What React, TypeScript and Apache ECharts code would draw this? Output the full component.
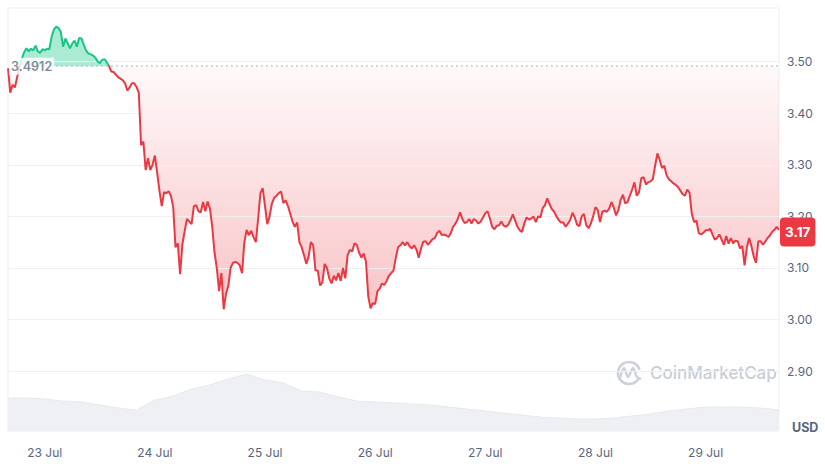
import React, { useEffect, useRef, useState } from "react";
import * as echarts from "echarts";

// Reference (open) price shown as the dotted baseline
const BASELINE = 3.4912;

// Price every 30 minutes, from 22 Jul 16:00 to 29 Jul 16:00
const prices: number[] = [
  3.487, 3.44, 3.455, 3.45, 3.47, 3.49, 3.505, 3.518, 3.526, 3.52,
  3.525, 3.522, 3.531, 3.52, 3.517, 3.524, 3.522, 3.525, 3.524, 3.548,
  3.562, 3.568, 3.565, 3.558, 3.529, 3.545, 3.536, 3.526, 3.535, 3.541,
  3.529, 3.546, 3.545, 3.533, 3.522, 3.516, 3.514, 3.512, 3.508, 3.501,
  3.497, 3.503, 3.505, 3.499, 3.492, 3.481, 3.48, 3.475, 3.47, 3.467,
  3.464, 3.458, 3.444, 3.45, 3.458, 3.458, 3.451, 3.44, 3.338, 3.345,
  3.29, 3.313, 3.29, 3.3, 3.318, 3.285, 3.25, 3.22, 3.247, 3.245,
  3.249, 3.24, 3.218, 3.14, 3.148, 3.088, 3.146, 3.172, 3.195, 3.19,
  3.185, 3.22, 3.222, 3.21, 3.208, 3.228, 3.21, 3.229, 3.215, 3.18,
  3.13, 3.1, 3.055, 3.09, 3.02, 3.05, 3.065, 3.1, 3.11, 3.112,
  3.11, 3.105, 3.09, 3.15, 3.174, 3.164, 3.172, 3.16, 3.15, 3.195,
  3.245, 3.255, 3.22, 3.185, 3.2, 3.225, 3.236, 3.24, 3.245, 3.248,
  3.226, 3.231, 3.22, 3.205, 3.19, 3.18, 3.188, 3.15, 3.14, 3.125,
  3.108, 3.122, 3.15, 3.144, 3.095, 3.095, 3.066, 3.072, 3.108, 3.1,
  3.08, 3.07, 3.085, 3.076, 3.09, 3.075, 3.1, 3.08, 3.125, 3.135,
  3.132, 3.148, 3.145, 3.13, 3.12, 3.128, 3.112, 3.045, 3.022, 3.032,
  3.03, 3.055, 3.06, 3.07, 3.067, 3.075, 3.085, 3.09, 3.095, 3.12,
  3.14, 3.144, 3.15, 3.144, 3.15, 3.142, 3.138, 3.144, 3.136, 3.12,
  3.138, 3.151, 3.152, 3.145, 3.15, 3.156, 3.158, 3.168, 3.172, 3.164,
  3.165, 3.163, 3.16, 3.168, 3.18, 3.186, 3.195, 3.208, 3.195, 3.187,
  3.189, 3.195, 3.186, 3.195, 3.192, 3.186, 3.19, 3.198, 3.206, 3.21,
  3.196, 3.18, 3.175, 3.182, 3.183, 3.19, 3.182, 3.18, 3.184, 3.193,
  3.204, 3.192, 3.18, 3.173, 3.17, 3.186, 3.198, 3.194, 3.196, 3.2,
  3.189, 3.2, 3.198, 3.216, 3.222, 3.235, 3.224, 3.214, 3.209, 3.2,
  3.193, 3.188, 3.188, 3.18, 3.186, 3.193, 3.207, 3.198, 3.184, 3.181,
  3.2, 3.205, 3.183, 3.177, 3.186, 3.2, 3.218, 3.212, 3.189, 3.209,
  3.211, 3.209, 3.215, 3.228, 3.217, 3.202, 3.212, 3.232, 3.242, 3.225,
  3.228, 3.24, 3.252, 3.266, 3.24, 3.247, 3.274, 3.276, 3.262, 3.266,
  3.268, 3.272, 3.298, 3.322, 3.31, 3.294, 3.298, 3.28, 3.272, 3.268,
  3.264, 3.261, 3.257, 3.25, 3.243, 3.24, 3.252, 3.246, 3.205, 3.189,
  3.192, 3.168, 3.165, 3.168, 3.173, 3.173, 3.176, 3.165, 3.155, 3.158,
  3.165, 3.155, 3.145, 3.162, 3.147, 3.158, 3.148, 3.153, 3.152, 3.138,
  3.143, 3.105, 3.14, 3.158, 3.142, 3.122, 3.11, 3.152, 3.152, 3.145,
  3.151, 3.158, 3.163, 3.17, 3.174, 3.18, 3.174,
];

// Volume (millions) every 4 hours over the same span
const volumes: number[] = [
  33, 33, 32, 30, 29, 26, 23, 21, 31, 35,
  42, 46, 52, 57, 51, 48, 40, 39, 34, 30,
  29, 28, 27, 26, 24, 22, 20, 18, 16, 14,
  13, 12, 12, 13, 15, 17, 20, 22, 24, 24,
  24, 23, 21,
];

const dayLabels: string[] = ["23 Jul", "24 Jul", "25 Jul", "26 Jul", "27 Jul", "28 Jul", "29 Jul"];
const yTicks: number[] = [2.9, 3.0, 3.1, 3.2, 3.3, 3.4, 3.5];

const FIRST_MIDNIGHT = 16; // index of 23 Jul 00:00 in the 30-minute series
const PER_DAY = 48;

const RED = "#ea3943";
const GREEN = "#16c784";
const FONT = "Inter, 'Noto Sans', sans-serif";

export default function App() {
  const ref = useRef<HTMLDivElement>(null);
  const [err, setErr] = useState<string>("");

  useEffect(() => {
    if (!ref.current) return;
    const chart = echarts.init(ref.current, null, { renderer: "svg" });

    try {
      const categories = prices.map((_, i) => {
        const k = i - FIRST_MIDNIGHT;
        return k >= 0 && k % PER_DAY === 0 ? dayLabels[k / PER_DAY] : String(i);
      });
      const volCats = volumes.map((_, i) => String(i));

      const redBase = prices.map((p) => Math.min(p, BASELINE));
      const redFill = prices.map((p) => BASELINE - Math.min(p, BASELINE));
      const greenBase = prices.map(() => BASELINE);
      const greenFill = prices.map((p) => Math.max(p, BASELINE) - BASELINE);
      const last = prices[prices.length - 1];

      const hidden = { opacity: 0, width: 0 };

      chart.setOption({
        animation: false,
        textStyle: { fontFamily: FONT },
        grid: [
          { left: 8, right: 46, top: 8, bottom: 33, show: true, borderColor: "#eceff3", borderWidth: 1 },
          { left: 8, right: 46, top: 372, bottom: 33 },
        ],
        xAxis: [
          {
            type: "category",
            gridIndex: 0,
            data: categories,
            boundaryGap: false,
            axisLine: { show: false },
            axisTick: { show: false },
            splitLine: { show: false },
            axisLabel: {
              interval: (i: number) => i >= FIRST_MIDNIGHT && (i - FIRST_MIDNIGHT) % PER_DAY === 0,
              color: "#58667e",
              fontSize: 12,
              margin: 15,
            },
          },
          {
            type: "category",
            gridIndex: 1,
            data: volCats,
            boundaryGap: false,
            show: false,
          },
        ],
        yAxis: [
          {
            type: "value",
            gridIndex: 0,
            position: "right",
            min: 2.784,
            max: 3.604,
            splitNumber: 8,
            axisLine: { show: false },
            axisTick: { show: false },
            axisLabel: {
              formatter: (v: number) =>
                yTicks.some((t) => Math.abs(t - v) < 1e-6) ? v.toFixed(2) : "",
              color: "#58667e",
              fontSize: 12,
              margin: 8,
            },
            splitLine: { show: false },
          },
          {
            type: "value",
            gridIndex: 1,
            min: 0,
            max: 59,
            show: false,
            splitLine: { show: false },
          },
        ],
        series: [
          {
            type: "line",
            xAxisIndex: 1,
            yAxisIndex: 1,
            data: volumes,
            symbol: "none",
            silent: true,
            lineStyle: { color: "#e6e9ee", width: 1 },
            areaStyle: { color: "#eef0f4", opacity: 1 },
            z: 1,
          },
          {
            type: "line",
            data: redBase,
            stack: "red",
            symbol: "none",
            silent: true,
            lineStyle: hidden,
            z: 2,
            markLine: {
              silent: true,
              symbol: "none",
              label: { show: false },
              lineStyle: { color: "#eef0f3", width: 1, type: "solid" },
              data: yTicks.map((v) => ({ yAxis: v })),
            },
          },
          {
            type: "line",
            data: redFill,
            stack: "red",
            symbol: "none",
            silent: true,
            lineStyle: hidden,
            areaStyle: {
              color: new echarts.graphic.LinearGradient(0, 0, 0, 1, [
                { offset: 0, color: "rgba(234,57,67,0.03)" },
                { offset: 1, color: "rgba(234,57,67,0.30)" },
              ]),
              opacity: 1,
            },
            z: 2,
          },
          {
            type: "line",
            data: greenBase,
            stack: "green",
            symbol: "none",
            silent: true,
            lineStyle: hidden,
            z: 2,
          },
          {
            type: "line",
            data: greenFill,
            stack: "green",
            symbol: "none",
            silent: true,
            lineStyle: hidden,
            areaStyle: { color: "rgba(22,199,132,0.36)", opacity: 1 },
            z: 2,
          },
          {
            id: "price",
            type: "line",
            data: prices,
            symbol: "none",
            silent: true,
            lineStyle: { width: 2, color: RED },
            z: 5,
            markLine: {
              silent: true,
              symbol: "none",
              z: 10,
              data: [
                [
                  {
                    xAxis: 21,
                    yAxis: BASELINE,
                    lineStyle: { color: "#b7bdc9", type: [1.5, 3.5], width: 1.5 },
                    label: {
                      show: true,
                      position: "start",
                      distance: 2,
                      formatter: String(BASELINE),
                      color: "#808a9d",
                      fontSize: 12.5,
                      fontWeight: 600,
                      backgroundColor: "rgba(255,255,255,0.8)",
                      padding: [2, 2, 2, 2],
                    },
                  },
                  { xAxis: prices.length - 1, yAxis: BASELINE },
                ],
                {
                  yAxis: last,
                  lineStyle: { color: "rgba(0,0,0,0)", width: 1, type: "solid" },
                  label: {
                    show: true,
                    position: "end",
                    distance: 1,
                    formatter: last.toFixed(2),
                    color: "#ffffff",
                    backgroundColor: RED,
                    fontSize: 13.5,
                    fontWeight: 700,
                    padding: [8, 5, 7, 5],
                    borderRadius: 4,
                  },
                },
              ],
            },
          },
        ],
        graphic: [
          {
            type: "arc",
            shape: { cx: 629, cy: 373, r: 11, startAngle: 0.5, endAngle: 0.5 + Math.PI * 1.75 },
            style: { stroke: "#cdd1d9", lineWidth: 2.6, fill: "none" },
            silent: true,
            z: 0,
          },
          {
            type: "polyline",
            shape: {
              points: [
                [620, 378],
                [624, 368],
                [628, 377],
                [633, 368],
                [637, 377],
                [641, 379],
              ],
              smooth: 0.3,
            },
            style: { stroke: "#cdd1d9", lineWidth: 2.4, fill: "none" },
            silent: true,
            z: 0,
          },
          {
            type: "text",
            x: 650,
            y: 373,
            style: {
              text: "CoinMarketCap",
              fill: "#c8cdd6",
              fontSize: 17,
              fontWeight: 500,
              fontFamily: FONT,
              verticalAlign: "middle",
            },
            silent: true,
            z: 0,
          },
          {
            type: "text",
            x: 792,
            y: 427,
            style: {
              text: "USD",
              fill: "#58667e",
              fontSize: 12.5,
              fontWeight: 700,
              fontFamily: FONT,
              verticalAlign: "middle",
            },
            silent: true,
          },
        ],
      });

      // Colour the price line green above the baseline and red below it
      const yB = chart.convertToPixel({ yAxisIndex: 0 }, BASELINE) as number;
      const H = 464;
      const f = Math.min(Math.max(yB / H, 0), 1);
      chart.setOption({
        series: [
          {
            id: "price",
            lineStyle: {
              color: new echarts.graphic.LinearGradient(
                0, 0, 0, H,
                [
                  { offset: 0, color: GREEN },
                  { offset: f, color: GREEN },
                  { offset: f, color: RED },
                  { offset: 1, color: RED },
                ],
                true
              ),
            },
          },
        ],
      });
    } catch (e: any) {
      setErr(String(e && e.stack ? e.stack : e));
    }

    return () => chart.dispose();
  }, []);

  return (
    <>
      <div
        ref={ref}
        style={{ position: "absolute", left: 0, top: 0, width: 825, height: 464, background: "#ffffff" }}
      />
      {err ? (
        <pre style={{ position: "absolute", left: 0, top: 0, fontSize: 9, whiteSpace: "pre-wrap", width: 820 }}>
          {err}
        </pre>
      ) : null}
    </>
  );
}
